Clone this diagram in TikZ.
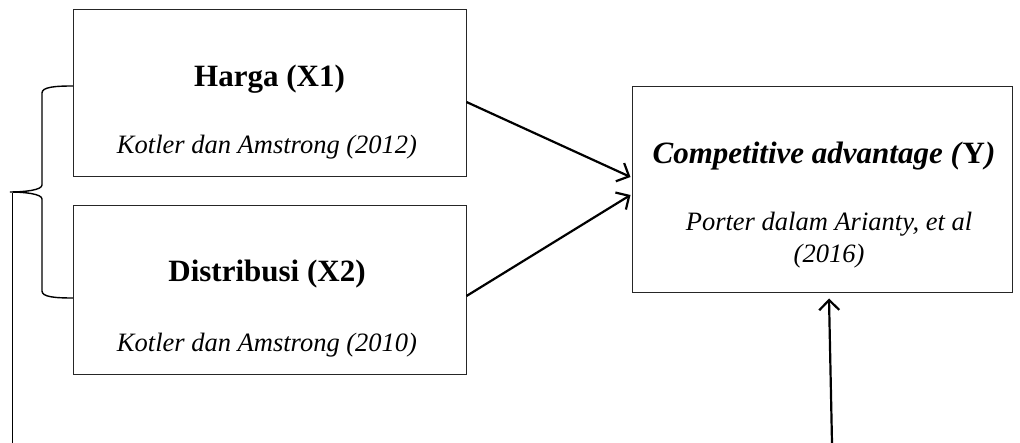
\documentclass[tikz,border=0pt]{standalone}
\usepackage{fontspec}
\setmainfont{Liberation Serif}
\usetikzlibrary{arrows.meta}
\begin{document}
\begin{tikzpicture}[x=1pt,y=-1pt,
  box/.style={draw=black!85, line width=1pt, rectangle, inner sep=0pt},
  title/.style={anchor=base, font=\fontsize{31}{36}\selectfont\bfseries},
  cite/.style={anchor=base, font=\fontsize{26.5}{32}\selectfont\itshape},
  arr/.style={line width=2.2pt, -{Straight Barb[length=10pt,width=20pt,line width=2.2pt]}},
  bracestyle/.style={line width=1.4pt}]
\useasboundingbox (0,0) rectangle (1020,443);
% boxes
\node[box, minimum width=393pt, minimum height=167pt] (x1) at (269.5,93.5) {};
\node[box, minimum width=393pt, minimum height=169pt] (x2) at (269.5,290.5) {};
\node[box, minimum width=380pt, minimum height=206pt] (y) at (822,189.5) {};
% texts
\node[title] (t1) at (269.5,87) {Harga (X1)};
\node[cite] (c1) at (267,154) {Kotler dan Amstrong (2012)};
\node[title] (t2) at (267,282) {Distribusi (X2)};
\node[cite] (c2) at (267,352) {Kotler dan Amstrong (2010)};
\node[title] (ty) at (824,164) {\textit{Competitive advantage (}Y\textit{)}};
\node[cite] (p1) at (829,231) {Porter dalam Arianty, et al};
\node[cite] (p2) at (829,263) {(2016)};
% arrows
\draw[arr] ([yshift=-8.5pt]x1.east) -- ([xshift=-1pt,yshift=12.5pt]y.west);
\draw[arr] ([yshift=-5.5pt]x2.east) -- ([xshift=-1pt,yshift=-5.5pt]y.west);
\coordinate (bot) at (832,443);
\draw[arr] (bot) -- ([xshift=7pt,yshift=-5.5pt]y.south);
% brace
\coordinate (btip) at (10,192);
\draw[bracestyle] (73,86) .. controls (55,86) and (42,87) .. (42,93) -- (42,185)
  .. controls (42,190) and (25,192) .. (btip)
  .. controls (25,192) and (42,194) .. (42,199) -- (42,291)
  .. controls (42,297) and (55,298) .. (73,298);
\coordinate (ltop) at (12,193);
\coordinate (lbot) at (12,443);
\draw[line width=1pt] (ltop) -- (lbot);
\end{tikzpicture}
\end{document}
